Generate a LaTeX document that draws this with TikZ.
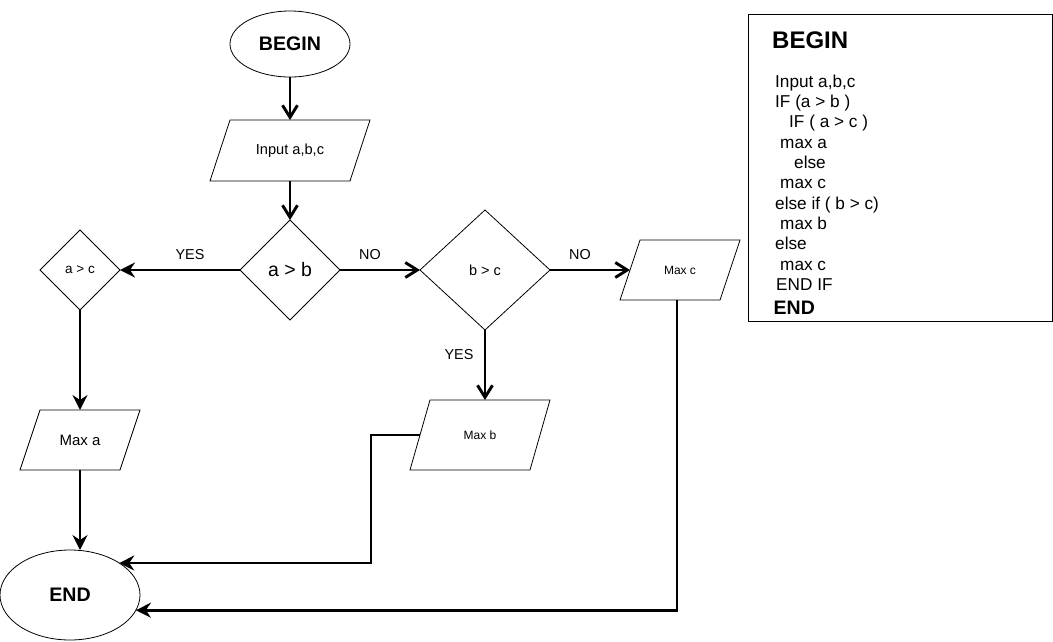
\documentclass[tikz,border=0pt]{standalone}
\usepackage{fontspec}
\setmainfont{Liberation Sans}
\usetikzlibrary{shapes.geometric,arrows.meta}
\begin{document}
\begin{tikzpicture}[x=1pt,y=-1pt,
  conn/.style={line width=2.9pt},
  openarr/.style={conn,-{Straight Barb[length=12pt,width=15pt]}},
  fillarr/.style={conn,-{Stealth[length=15pt,width=15pt,inset=5pt]}},
  term/.style={ellipse,draw,line width=0.8pt,inner sep=0pt,outer sep=0pt,font=\fontsize{19.6}{22}\selectfont\bfseries},
  dec/.style={diamond,draw,line width=0.8pt,inner sep=0pt,outer sep=0pt,aspect=1},
  io/.style={rectangle,inner sep=0pt,outer sep=0pt},
  para/.style={line width=0.8pt},
  lbl/.style={font=\fontsize{14.4}{16}\selectfont},
  code/.style={anchor=base west,inner sep=0pt,font=\fontsize{17.2}{20}\selectfont},
]
\useasboundingbox (0,0) rectangle (1053,641);

% terminals
\node[term,minimum width=120pt,minimum height=66pt] (begin) at (290,44) {BEGIN};
\node[term,minimum width=140pt,minimum height=90pt] (end) at (70,595) {END};

% input
\node[io,minimum width=160pt,minimum height=61pt,font=\fontsize{14.6}{16}\selectfont] (input) at (290,150.5) {Input a,b,c};
\draw[para] ([xshift=20pt]input.north west) -- (input.north east) -- ([xshift=-20pt]input.south east) -- (input.south west) -- cycle;

% decisions
\node[dec,minimum width=100pt,minimum height=100pt,font=\fontsize{19.5}{21}\selectfont] (ab) at (290,270) {a > b};
\node[dec,minimum width=80pt,minimum height=80pt,font=\fontsize{13.5}{15}\selectfont] (ac) at (80,270) {a > c};
\node[dec,minimum width=130pt,minimum height=120pt,font=\fontsize{14.5}{16}\selectfont] (bc) at (485,270) {b > c};

% outputs
\node[io,minimum width=120pt,minimum height=60pt,font=\fontsize{12}{14}\selectfont] (maxc) at (680,270) {Max c};
\draw[para] ([xshift=20pt]maxc.north west) -- (maxc.north east) -- ([xshift=-20pt]maxc.south east) -- (maxc.south west) -- cycle;
\node[io,minimum width=120pt,minimum height=60pt,font=\fontsize{15}{17}\selectfont] (maxa) at (80,440) {Max a};
\draw[para] ([xshift=20pt]maxa.north west) -- (maxa.north east) -- ([xshift=-20pt]maxa.south east) -- (maxa.south west) -- cycle;
\node[io,minimum width=140pt,minimum height=70pt,font=\fontsize{12}{14}\selectfont] (maxb) at (480,435) {Max b};
\draw[para] ([xshift=20pt]maxb.north west) -- (maxb.north east) -- ([xshift=-20pt]maxb.south east) -- (maxb.south west) -- cycle;

\coordinate (maxcL) at (630,270);
\coordinate (maxcB) at (677,300);
\coordinate (maxbL) at (420,435);

% connectors
\draw[openarr] (begin.south) -- (input.north);
\draw[openarr] (input.south) -- (ab.north);
\draw[fillarr] (ab.west) -- (ac.east);
\draw[openarr] (ab.east) -- (bc.west);
\draw[openarr] (bc.east) -- (maxcL);
\draw[openarr] (bc.south) -- (bc.south |- maxb.north);
\draw[fillarr] (ac.south) -- (maxa.north);
\draw[fillarr] (maxa.south) -- (maxa.south |- end.north);
\draw[fillarr] (maxbL) -- ++(-49,0) |- (end.33);
\draw[fillarr] (maxcB) |- (end.-13);

% labels
\node[lbl] (yes1) at (190,255) {YES};
\node[lbl] (no1) at (370,255) {NO};
\node[lbl] (no2) at (580,255) {NO};
\node[lbl] (yes2) at (459,355) {YES};

% pseudo-code box
\node[draw,line width=0.8pt,inner sep=0pt,minimum width=304pt,minimum height=307pt] (codebox) at (900,167.5) {};
\node[code,font=\fontsize{24}{26}\selectfont\bfseries] (c0) at (772,48.3) {BEGIN};
\node[code] (c1) at (775,87.3) {Input a,b,c};
\node[code] (c2) at (775,107.6) {IF (a > b )};
\node[code] (c3) at (789,127.9) {IF ( a > c )};
\node[code] (c4) at (780,148.2) {max a};
\node[code] (c5) at (794,168.5) {else};
\node[code] (c6) at (780,188.8) {max c};
\node[code] (c7) at (775,209.1) {else if ( b > c)};
\node[code] (c8) at (780,229.4) {max b};
\node[code] (c9) at (775,249.7) {else};
\node[code] (c10) at (780,270) {max c};
\node[code] (c11) at (776,290.3) {END IF};
\node[code,font=\fontsize{19.5}{22}\selectfont\bfseries] (c12) at (773.5,314) {END};
\end{tikzpicture}
\end{document}
